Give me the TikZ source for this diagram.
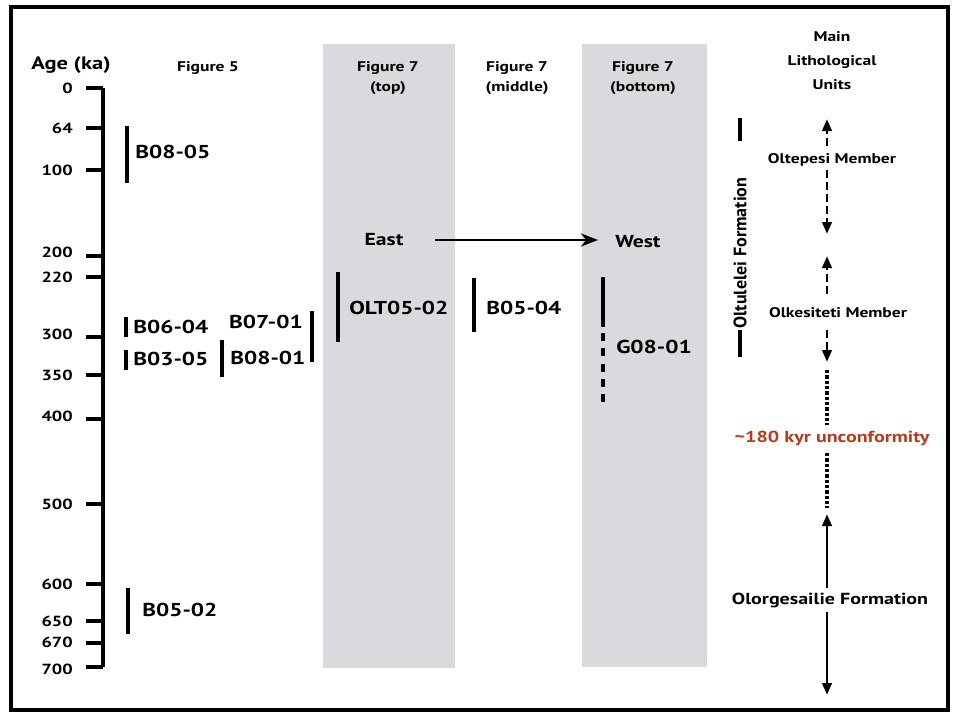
\documentclass[tikz,border=0pt]{standalone}
\usepackage{fontspec}
\setmainfont{PT Sans}[FakeStretch=1.25]
\newfontfamily\plainsans{PT Sans}
\usetikzlibrary{arrows.meta}
\definecolor{panelgray}{RGB}{217,218,221}
\definecolor{unconfred}{RGB}{182,58,30}

\begin{document}
\begin{tikzpicture}[x=0.75pt,y=-0.75pt]
	 \tikzstyle{panel}=[fill=panelgray,draw=none]
	 \tikzstyle{axis}=[draw,line width=3pt,black]
	 \tikzstyle{tick label}=[anchor=east,inner sep=0pt,font=\bfseries\fontsize{11}{12}\selectfont]
	 \tikzstyle{head label}=[align=center,inner sep=0pt,font=\bfseries\fontsize{10.5}{15}\selectfont]
	 \tikzstyle{sample bar}=[draw,line width=3pt,black]
	 \tikzstyle{sample label}=[anchor=west,inner sep=0pt,font=\bfseries\fontsize{14}{16}\selectfont]
	 \tikzstyle{unit label}=[inner sep=0pt,font=\bfseries\fontsize{10.5}{12}\selectfont]
	 \tikzstyle{unit arrow}=[draw,line width=2.2pt,-{Triangle[length=9pt,width=7pt]}]
	 \tikzstyle{dashed unit arrow}=[unit arrow,dash pattern=on 6pt off 3pt]
	 \tikzstyle{gap line}=[draw,line width=2.6pt,dash pattern=on 2.5pt off 1.5pt]
	 \useasboundingbox (0,0) rectangle (953,718);
	 % frame and panels
	 \fill[white] (0,0) rectangle (953,718);
	 \fill[panel] (323,44) rectangle (455,668);
	 \fill[panel] (582,44) rectangle (707,667);
	 \draw[line width=3pt] (11,7) rectangle (948,710);
	 % age axis
	 \node[font=\bfseries\fontsize{13.5}{16}\selectfont,inner sep=0pt] (age) at (71,65) {Age (ka)};
	 \draw[axis] (103,88) -- (103,667);
	 \draw[axis] (86,88) -- (103,88);
	 \draw[axis] (86,128) -- (103,128);
	 \draw[axis] (86,170) -- (103,170);
	 \draw[axis] (86,256) -- (103,256);
	 \draw[axis] (86,277) -- (103,277);
	 \draw[axis] (86,337) -- (103,337);
	 \draw[axis] (86,375) -- (103,375);
	 \draw[axis] (86,419) -- (103,419);
	 \draw[axis] (86,504) -- (103,504);
	 \draw[axis] (86,584) -- (103,584);
	 \draw[axis] (86,621) -- (103,621);
	 \draw[axis] (86,643) -- (103,643);
	 \draw[axis] (86,667) -- (103,667);
	 \node[tick label] (t0) at (73,88) {0};
	 \node[tick label] (t64) at (73,128) {64};
	 \node[tick label] (t100) at (73,170) {100};
	 \node[tick label] (t200) at (73,252) {200};
	 \node[tick label] (t220) at (73,277) {220};
	 \node[tick label] (t300) at (73,334) {300};
	 \node[tick label] (t350) at (73,375) {350};
	 \node[tick label] (t400) at (73,416) {400};
	 \node[tick label] (t500) at (73,504) {500};
	 \node[tick label] (t600) at (73,584) {600};
	 \node[tick label] (t650) at (73,621) {650};
	 \node[tick label] (t670) at (73,642) {670};
	 \node[tick label] (t700) at (73,669) {700};
	 % column headings
	 \node[head label] (fig5) at (208,68) {Figure 5};
	 \node[head label] (fig7top) at (388,78) {Figure 7\\(top)};
	 \node[head label] (fig7mid) at (517,78) {Figure 7\\(middle)};
	 \node[head label] (fig7bot) at (643,78) {Figure 7\\(bottom)};
	 \node[head label,font=\bfseries\fontsize{10.5}{18}\selectfont] (units) at (832,61) {Main\\Lithological\\Units};
	 % samples
	 \draw[sample bar] (127,126) -- (127,183);
	 \node[sample label] (b0805) at (135,152) {B08-05};
	 \draw[sample bar] (126,317) -- (126,337);
	 \node[sample label] (b0604) at (133,327) {B06-04};
	 \draw[sample bar] (126,350) -- (126,370);
	 \node[sample label] (b0305) at (133,359) {B03-05};
	 \draw[sample bar] (222,340) -- (222,377);
	 \node[sample label] (b0801) at (230,358) {B08-01};
	 \draw[sample bar] (312,311) -- (312,362);
	 \node[sample label,anchor=east] (b0701) at (303,322) {B07-01};
	 \draw[sample bar] (128,588) -- (128,634);
	 \node[sample label] (b0502) at (142,610) {B05-02};
	 \draw[sample bar] (338,272) -- (338,342);
	 \node[sample label] (olt0502) at (349,308) {OLT05-02};
	 \draw[sample bar] (474,278) -- (474,332);
	 \node[sample label] (b0504) at (486,308) {B05-04};
	 \draw[sample bar] (603,277) -- (603,327);
	 \draw[sample bar,dash pattern=on 6pt off 5.5pt] (603,333) -- (603,404);
	 \node[sample label] (g0801) at (616,347) {G08-01};
	 % east to west
	 \node[sample label,anchor=center,font=\bfseries\fontsize{13}{16}\selectfont] (east) at (384,240) {East};
	 \node[sample label,font=\bfseries\fontsize{13}{16}\selectfont] (west) at (615,242) {West};
	 \coordinate (ewstart) at (435,240);
	 \coordinate (ewend) at (598,240);
	 \draw[line width=1.2pt,-{Stealth[length=13pt,width=10pt]}] (ewstart) -- (ewend);
	 % lithological units
	 \draw[line width=3pt] (740,118) -- (740,141);
	 \draw[line width=3pt] (740,330) -- (740,357);
	 \node[unit label,rotate=90,font=\plainsans\bfseries\fontsize{13.5}{16}\selectfont] (oltulelei) at (740,253) {Oltulelei Formation};
	 \node[unit label] (oltepesi) at (832,160) {Oltepesi Member};
	 \node[unit label] (olkesiteti) at (838,313) {Olkesiteti Member};
	 \node[unit label,text=unconfred,font=\bfseries\fontsize{12}{14}\selectfont] (unconf) at (832,438) {\textasciitilde180 kyr unconformity};
	 \node[unit label,font=\bfseries\fontsize{12}{14}\selectfont] (olorgesailie) at (830,600) {Olorgesailie Formation};
	 \coordinate (oltepesi up) at (827,119);
	 \coordinate (oltepesi up s) at (827,146);
	 \coordinate (oltepesi down s) at (827,170);
	 \coordinate (oltepesi down) at (827,234);
	 \coordinate (olkesiteti up) at (827,256);
	 \coordinate (olkesiteti up s) at (827,294);
	 \coordinate (olkesiteti down s) at (827,330);
	 \coordinate (olkesiteti down) at (827,362);
	 \coordinate (gap1 s) at (827,370);
	 \coordinate (gap1 e) at (827,425);
	 \coordinate (gap2 s) at (827,453);
	 \coordinate (gap2 e) at (827,508);
	 \coordinate (olorgesailie up s) at (827,588);
	 \coordinate (olorgesailie up) at (827,514);
	 \coordinate (olorgesailie down s) at (827,612);
	 \coordinate (olorgesailie down) at (827,695);
	 \draw[dashed unit arrow] (oltepesi up s) -- (oltepesi up);
	 \draw[dashed unit arrow] (oltepesi down s) -- (oltepesi down);
	 \draw[dashed unit arrow] (olkesiteti up s) -- (olkesiteti up);
	 \draw[dashed unit arrow] (olkesiteti down s) -- (olkesiteti down);
	 \draw[gap line] (gap1 s) -- (gap1 e);
	 \draw[gap line] (gap2 s) -- (gap2 e);
	 \draw[unit arrow] (olorgesailie up s) -- (olorgesailie up);
	 \draw[unit arrow] (olorgesailie down s) -- (olorgesailie down);
 \end{tikzpicture}
\end{document}
